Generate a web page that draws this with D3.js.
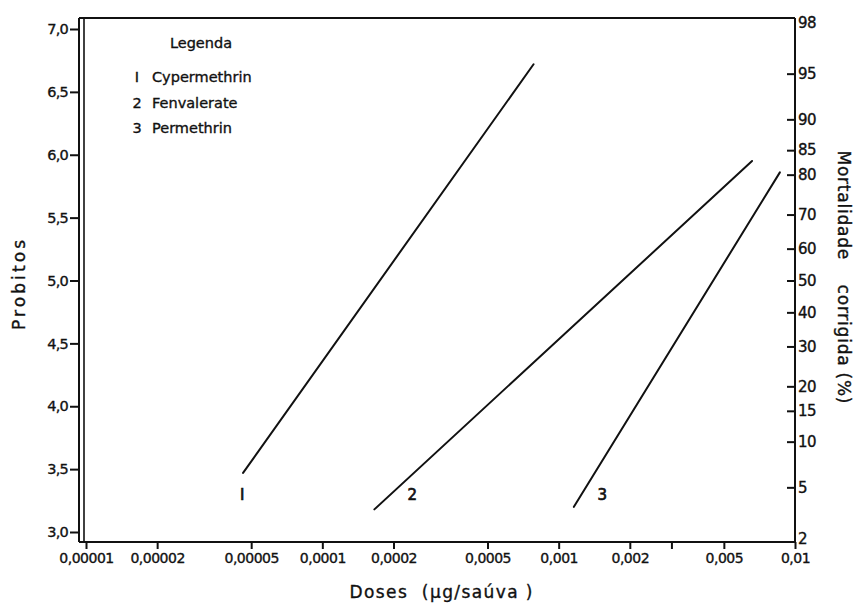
<!DOCTYPE html>
<html>
<head>
<meta charset="utf-8">
<script src="https://cdn.jsdelivr.net/npm/d3@7"></script>
<style>
  body { margin: 0; background: #fff; }
  svg { display: block; font-family: "DejaVu Sans", sans-serif; }
  text { fill: #111; stroke: #111; stroke-width: 0.35px; }
</style>
</head>
<body>
<svg id="chart" width="863" height="603"></svg>
<script>
// data

// regression lines (probit vs log dose)
const line_ids = ["1", "2", "3"];
const dose_start = [4.62e-5, 1.66e-4, 1.16e-3];
const dose_end = [7.83e-4, 6.58e-3, 8.63e-3];
const probit_start = [3.47, 3.18, 3.20];
const probit_end = [6.72, 5.95, 5.86];
const label_dose = [4.58e-5, 2.40e-4, 1.53e-3];
const label_probit = [3.30, 3.30, 3.30];

// legend
const legend_title = "Legenda";
const legend_names = ["Cypermethrin", "Fenvalerate", "Permethrin"];

// axis ticks
const dose_ticks = [0.00001, 0.00002, 0.00005, 0.0001, 0.0002, 0.0005, 0.001, 0.002, 0.003, 0.005, 0.01];
const dose_labels = ["0,00001", "0,00002", "0,00005", "0,0001", "0,0002", "0,0005", "0,001", "0,002", "", "0,005", "0,01"];
const probit_ticks = [3.0, 3.5, 4.0, 4.5, 5.0, 5.5, 6.0, 6.5, 7.0];
const probit_labels = ["3,0", "3,5", "4,0", "4,5", "5,0", "5,5", "6,0", "6,5", "7,0"];
const pct_ticks = [2, 5, 10, 15, 20, 30, 40, 50, 60, 70, 80, 85, 90, 95, 98];

// layout
const svg = d3.select("#chart");
const frame = { left: 79, top: 18, right: 795, bottom: 542 };

const x = d3.scaleLog().domain([1e-5, 1e-2]).range([86, 795]);
const y = d3.scaleLinear().domain([3, 7]).range([532, 29]);

// inverse normal cdf (Acklam) -> probit = 5 + z
function norm_inv(p) {
    const a = [-3.969683028665376e+01, 2.209460984245205e+02, -2.759285104469687e+02, 1.383577518672690e+02, -3.066479806614716e+01, 2.506628277459239e+00];
    const b = [-5.447609879822406e+01, 1.615858368580409e+02, -1.556989798598866e+02, 6.680131188771972e+01, -1.328068155288572e+01];
    const c = [-7.784894002430293e-03, -3.223964580411365e-01, -2.400758277161838e+00, -2.549732539343734e+00, 4.374664141464968e+00, 2.938163982698783e+00];
    const d = [7.784695709041462e-03, 3.224671290700398e-01, 2.445134137142996e+00, 3.754408661907416e+00];
    const pl = 0.02425;
    let q, r;
    if (p < pl) {
        q = Math.sqrt(-2 * Math.log(p));
        return (((((c[0]*q+c[1])*q+c[2])*q+c[3])*q+c[4])*q+c[5]) / ((((d[0]*q+d[1])*q+d[2])*q+d[3])*q+1);
    } else if (p <= 1 - pl) {
        q = p - 0.5; r = q * q;
        return (((((a[0]*r+a[1])*r+a[2])*r+a[3])*r+a[4])*r+a[5])*q / (((((b[0]*r+b[1])*r+b[2])*r+b[3])*r+b[4])*r+1);
    }
    q = Math.sqrt(-2 * Math.log(1 - p));
    return -(((((c[0]*q+c[1])*q+c[2])*q+c[3])*q+c[4])*q+c[5]) / ((((d[0]*q+d[1])*q+d[2])*q+d[3])*q+1);
}
const pct_to_probit = (pct) => 5 + norm_inv(pct / 100);

// frame lines
const frame_g = svg.append("g").attr("stroke", "#111").attr("stroke-width", 2).attr("fill", "none");
frame_g.append("line").attr("x1", frame.left).attr("x2", frame.left).attr("y1", frame.top).attr("y2", frame.bottom);
frame_g.append("line").attr("x1", frame.left + 5).attr("x2", frame.left + 5).attr("y1", frame.top).attr("y2", frame.bottom).attr("stroke-width", 1.6);
frame_g.append("line").attr("x1", frame.left).attr("x2", frame.right).attr("y1", frame.top).attr("y2", frame.top);
frame_g.append("line").attr("x1", frame.left).attr("x2", frame.right).attr("y1", frame.bottom).attr("y2", frame.bottom);
frame_g.append("line").attr("x1", frame.right).attr("x2", frame.right).attr("y1", frame.top).attr("y2", frame.bottom);

// left axis
const ax_left = svg.append("g")
    .attr("transform", `translate(${frame.left},0)`)
    .call(d3.axisLeft(y).tickValues(probit_ticks)
        .tickFormat((d, i) => probit_labels[i])
        .tickSizeInner(9).tickSizeOuter(0).tickPadding(2));

// bottom axis
const ax_bottom = svg.append("g")
    .attr("transform", `translate(0,${frame.bottom})`)
    .call(d3.axisBottom(x).tickValues(dose_ticks)
        .tickFormat((d, i) => dose_labels[i])
        .tickSizeInner(7).tickSizeOuter(0).tickPadding(4));

// right axis (percent on probit positions)
const ax_right = svg.append("g")
    .attr("transform", `translate(${frame.right},0)`)
    .call(d3.axisRight(y).tickValues(pct_ticks.map(pct_to_probit))
        .tickFormat((d, i) => pct_ticks[i])
        .tickSizeInner(-8).tickSizeOuter(0).tickPadding(3));

[ax_left, ax_bottom, ax_right].forEach((g) => {
    g.select(".domain").remove();
    g.selectAll(".tick line").attr("stroke", "#111").attr("stroke-width", 2);
    g.selectAll(".tick text").attr("fill", "#111").style("font-family", "DejaVu Sans, sans-serif");
});
ax_left.selectAll(".tick text").style("font-size", "14.5px").attr("letter-spacing", "-0.8");
ax_bottom.selectAll(".tick text").style("font-size", "14px").attr("letter-spacing", "-0.5");
ax_right.selectAll(".tick text").style("font-size", "15px").attr("letter-spacing", "-0.6");
// no tick marks at the corners
ax_right.selectAll(".tick line").filter((d, i) => i === 0 || i === pct_ticks.length - 1).remove();

// regression lines
const line_g = svg.append("g");
line_ids.forEach((id, i) => {
    line_g.append("line")
        .attr("x1", x(dose_start[i])).attr("y1", y(probit_start[i]))
        .attr("x2", x(dose_end[i])).attr("y2", y(probit_end[i]))
        .attr("stroke", "#111").attr("stroke-width", 2).attr("stroke-linecap", "round");
    line_g.append("text")
        .attr("x", x(label_dose[i])).attr("y", y(label_probit[i]))
        .attr("text-anchor", "middle").attr("dy", "0.36em")
        .style("font-size", "15px").style("stroke-width", "0.7px")
        .text(id === "1" ? "I" : id);
});

// legend
const leg = svg.append("g");
leg.append("text").attr("x", 201).attr("y", 43).attr("dy", "0.36em")
    .attr("text-anchor", "middle").style("font-size", "14.5px").text(legend_title);
legend_names.forEach((name, i) => {
    const ly = 77 + i * 25.5;
    leg.append("text").attr("x", 137).attr("y", ly).attr("dy", "0.36em")
        .attr("text-anchor", "middle").style("font-size", "14.5px")
        .text(i === 0 ? "I" : String(i + 1));
    leg.append("text").attr("x", 152).attr("y", ly).attr("dy", "0.36em")
        .style("font-size", "14.5px").text(name);
});

// axis titles
svg.append("text")
    .attr("transform", "translate(25,285) rotate(-90)")
    .attr("text-anchor", "middle")
    .attr("textLength", 90).attr("lengthAdjust", "spacing")
    .style("font-size", "17px")
    .text("Probitos");

svg.append("text")
    .attr("x", 441).attr("y", 598)
    .attr("text-anchor", "middle")
    .attr("textLength", 183).attr("lengthAdjust", "spacing")
    .style("font-size", "17px").style("white-space", "pre")
    .text("Doses  (µg/saúva )");

svg.append("text")
    .attr("transform", "translate(838,277) rotate(90)")
    .attr("text-anchor", "middle")
    .attr("textLength", 253).attr("lengthAdjust", "spacing")
    .style("font-size", "17px").style("white-space", "pre")
    .text("Mortalidade    corrigida (%)");
</script>
</body>
</html>
